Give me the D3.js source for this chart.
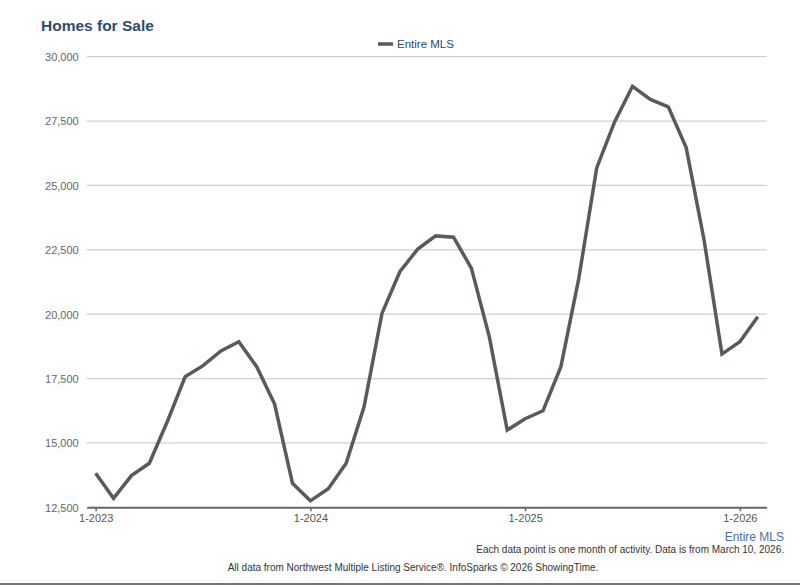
<!DOCTYPE html>
<html><head><meta charset="utf-8">
<script src="https://cdn.jsdelivr.net/npm/d3@7"></script>
<style>body{margin:0;background:#fff;font-family:Arial,"Liberation Sans",sans-serif}</style>
</head><body>
<svg id="c" width="800" height="585"></svg>
<script>
const months = [];
for (let y = 2023; y <= 2026; y++) for (let m = 1; m <= 12; m++) { if (y === 2026 && m > 2) break; months.push(m + "-" + y); }
const values = [13820,12850,13730,14210,15820,17570,18000,18570,18930,17960,16510,13430,
  12750,13220,14210,16400,20030,21650,22530,23040,22990,21780,19120,15500,
  15940,16250,17960,21390,25680,27470,28850,28340,28050,26470,22880,18450,
  18930,19900];
const yTicks = [12500,15000,17500,20000,22500,25000,27500,30000];
const xTickLabels = ["1-2023","1-2024","1-2025","1-2026"];

const svg = d3.select("#c");
const L = 86.7, R = 766.7, T = 56.7, B = 507.3;
const x = d3.scalePoint().domain(months).range([L, R]).padding(0.5);
const y = d3.scaleLinear().domain([12500, 30000]).range([B, T]);

svg.append("text").attr("x", 41).attr("y", 31).text("Homes for Sale")
  .attr("font-size", 15.5).attr("font-weight", "bold").attr("fill", "#2f4b6e");

// grid
svg.append("g").selectAll("line").data(yTicks.filter(d => d > 12500)).join("line")
  .attr("x1", L).attr("x2", R).attr("y1", d => y(d)).attr("y2", d => y(d))
  .attr("stroke", "#cfcfcf").attr("stroke-width", 1.2);

// y labels
const ya = svg.append("g").attr("transform", `translate(${L - 8},0)`)
  .call(d3.axisLeft(y).tickValues(yTicks).tickSize(0).tickPadding(0).tickFormat(d3.format(",")));
ya.select(".domain").remove();
ya.selectAll("text").attr("font-size", 11).attr("fill", "#666").attr("font-family", "Arial, 'Liberation Sans', sans-serif").attr("dy", "0.35em");

// x axis
const xa = svg.append("g").attr("transform", `translate(0,${B})`)
  .call(d3.axisBottom(x).tickValues(xTickLabels).tickSize(4).tickPadding(3).tickSizeOuter(0));
xa.select(".domain").attr("stroke", "#666").attr("stroke-width", 2);
xa.selectAll(".tick line").attr("stroke", "#666").attr("stroke-width", 1.5);
xa.selectAll("text").attr("font-size", 11).attr("fill", "#555").attr("font-family", "Arial, 'Liberation Sans', sans-serif");

// line
svg.append("path").datum(values)
  .attr("d", d3.line().x((d, i) => x(months[i])).y(d => y(d)))
  .attr("fill", "none").attr("stroke", "#545d5c").attr("stroke-width", 3.5).attr("stroke-linejoin", "miter");

// legend
svg.append("line").attr("x1", 378).attr("x2", 393).attr("y1", 44).attr("y2", 44)
  .attr("stroke", "#545d5c").attr("stroke-width", 3.5);
svg.append("text").attr("x", 397).attr("y", 48).text("Entire MLS")
  .attr("font-size", 11.5).attr("fill", "#2f4b6e");

svg.append("text").attr("x", 784).attr("y", 541).attr("text-anchor", "end").text("Entire MLS")
  .attr("font-size", 12).attr("fill", "#4b6fa3");
svg.append("text").attr("x", 784).attr("y", 553).attr("text-anchor", "end")
  .text("Each data point is one month of activity. Data is from March 10, 2026.")
  .attr("font-size", 10).attr("fill", "#333");
svg.append("text").attr("x", 413).attr("y", 571).attr("text-anchor", "middle")
  .text("All data from Northwest Multiple Listing Service®. InfoSparks © 2026 ShowingTime.")
  .attr("font-size", 10).attr("fill", "#333");
svg.append("line").attr("x1", 0).attr("x2", 800).attr("y1", 584).attr("y2", 584)
  .attr("stroke", "#777").attr("stroke-width", 2);
</script>
</body></html>
